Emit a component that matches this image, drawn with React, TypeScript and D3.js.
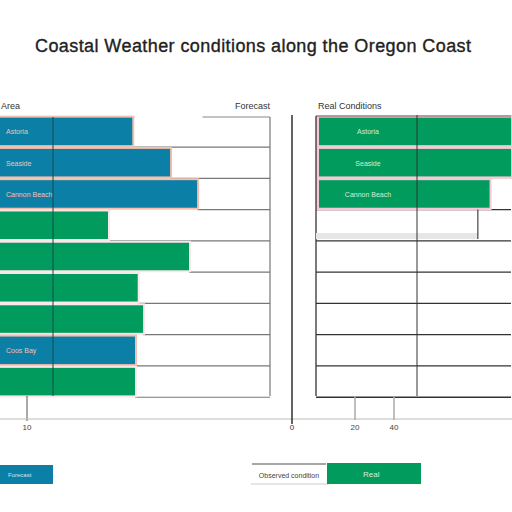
import React, { useEffect, useRef } from 'react';
import * as d3 from 'd3';

// Coastal stations, top to bottom
const stations = ['Astoria', 'Seaside', 'Cannon Beach', 'Tillamook', 'Lincoln City', 'Newport', 'Florence', 'Coos Bay', 'Brookings'];
// left panel: forecast score
const forecastValues = [49, 63, 73, 40, 70, 51, 53, 50, 50];
// which rows are "forecast" (blue) vs "observed" (green)
const forecastKind = ['forecast', 'forecast', 'forecast', 'observed', 'observed', 'observed', 'observed', 'forecast', 'observed'];
// right panel: real conditions (only first rows reported)
const conditionValues = [100, 100, 89, 83, 0, 0, 0, 0, 0];
const conditionKind = ['reported', 'reported', 'reported', 'pending', 'none', 'none', 'none', 'none', 'none'];
const leftTicks = [10];
const rightTicks = [20, 40];

const BLUE = '#0b7fa6';
const GREEN = '#009b5d';
const SALMON = '#f5c0ab';
const PINK = '#f6c9d6';
const FONT = 'Liberation Sans, Arial, sans-serif';

const App: React.FC = () => {
  const ref = useRef<SVGSVGElement | null>(null);

  useEffect(() => {
    const svg = d3.select(ref.current);
    svg.selectAll('*').remove();

    const width = 512;
    const height = 512;
    svg.attr('width', width).attr('height', height);
    svg.append('rect').attr('width', width).attr('height', height).attr('fill', '#fff');

    // Title
    svg
      .append('text')
      .attr('x', 253)
      .attr('y', 52)
      .attr('text-anchor', 'middle')
      .attr('font-family', FONT)
      .attr('font-size', 18)
      .attr('fill', '#222')
      .attr('stroke', '#222')
      .attr('stroke-width', 0.35)
      .attr('textLength', 436)
      .text('Coastal Weather conditions along the Oregon Coast');

    const y = d3
      .scaleBand()
      .domain(stations)
      .range([117, 396])
      .paddingInner(0.12)
      .paddingOuter(0.02);
    const step = y.step();

    // ---------- left panel ----------
    const xL = d3.scaleLinear().domain([0, 100]).range([0, 270]);
    const left = svg.append('g');

    left
      .append('text')
      .attr('x', 1)
      .attr('y', 109)
      .attr('font-family', FONT)
      .attr('font-size', 9)
      .attr('fill', '#333')
      .text('Area');
    left
      .append('text')
      .attr('x', 270)
      .attr('y', 109)
      .attr('text-anchor', 'end')
      .attr('font-family', FONT)
      .attr('font-size', 9)
      .attr('fill', '#333')
      .text('Forecast');

    // row grid lines from the bar end to the right edge
    stations.forEach((s, i) => {
      const yb = (y(s) as number) + y.bandwidth() + (step - y.bandwidth()) / 2;
      left
        .append('line')
        .attr('x1', xL(forecastValues[i]))
        .attr('x2', xL(100))
        .attr('y1', yb)
        .attr('y2', yb)
        .attr('stroke', '#777')
        .attr('stroke-width', 1.2);
    });
    left
      .append('line')
      .attr('x1', xL(75))
      .attr('x2', xL(100))
      .attr('y1', 117)
      .attr('y2', 117)
      .attr('stroke', '#888');
    left
      .append('line')
      .attr('x1', xL(100))
      .attr('x2', xL(100))
      .attr('y1', 117)
      .attr('y2', 396)
      .attr('stroke', '#777')
      .attr('stroke-width', 1.2);

    // light backing for every row (salmon for forecast rows)
    left
      .selectAll('.bg')
      .data(stations)
      .enter()
      .append('rect')
      .attr('x', 0)
      .attr('y', (d) => (y(d) as number) - 2)
      .attr('width', (_, i) => xL(forecastValues[i]) + 2)
      .attr('height', y.bandwidth() + 4)
      .attr('fill', (_, i) => (forecastKind[i] === 'forecast' ? SALMON : '#fbe6ea'));

    left
      .selectAll('.bar')
      .data(stations)
      .enter()
      .append('rect')
      .attr('x', 0)
      .attr('y', (d) => y(d) as number)
      .attr('width', (_, i) => xL(forecastValues[i]))
      .attr('height', y.bandwidth())
      .attr('fill', (_, i) => (forecastKind[i] === 'forecast' ? BLUE : GREEN));

    left
      .selectAll('.lbl')
      .data(stations)
      .enter()
      .filter((_, i) => forecastKind[i] === 'forecast')
      .append('text')
      .attr('x', 6)
      .attr('y', (d) => (y(d) as number) + y.bandwidth() / 2 + 3)
      .attr('font-family', FONT)
      .attr('font-size', 7)
      .attr('fill', '#f4c2b2')
      .text((d) => d);

    // divider inside the bars
    left
      .append('line')
      .attr('x1', 53)
      .attr('x2', 53)
      .attr('y1', 117)
      .attr('y2', 396)
      .attr('stroke', '#124a4a')
      .attr('stroke-width', 1);

    // bottom axis
    svg
      .append('line')
      .attr('x1', 0)
      .attr('x2', 512)
      .attr('y1', 419)
      .attr('y2', 419)
      .attr('stroke', '#bbb')
      .attr('stroke-width', 1.2);
    leftTicks.forEach((t) => {
      left
        .append('line')
        .attr('x1', xL(t))
        .attr('x2', xL(t))
        .attr('y1', 396)
        .attr('y2', 421)
        .attr('stroke', '#555');
      left
        .append('text')
        .attr('x', xL(t))
        .attr('y', 430)
        .attr('text-anchor', 'middle')
        .attr('font-family', FONT)
        .attr('font-size', 8)
        .attr('fill', '#444')
        .text(t);
    });

    // ---------- right panel ----------
    const xR = d3.scaleLinear().domain([0, 100]).range([316, 511]);
    const right = svg.append('g');

    right
      .append('line')
      .attr('x1', 292)
      .attr('x2', 292)
      .attr('y1', 115)
      .attr('y2', 424)
      .attr('stroke', '#222')
      .attr('stroke-width', 1.4);
    right
      .append('text')
      .attr('x', 292)
      .attr('y', 430)
      .attr('text-anchor', 'middle')
      .attr('font-family', FONT)
      .attr('font-size', 8)
      .attr('fill', '#333')
      .text('0');
    right
      .append('text')
      .attr('x', 318)
      .attr('y', 109)
      .attr('font-family', FONT)
      .attr('font-size', 9)
      .attr('fill', '#333')
      .text('Real Conditions');

    // grid rows
    stations.forEach((s, i) => {
      const yb = (y(s) as number) + y.bandwidth() + (step - y.bandwidth()) / 2;
      if (i >= 2) {
        right
          .append('line')
          .attr('x1', xR(0))
          .attr('x2', xR(100))
          .attr('y1', yb)
          .attr('y2', yb)
          .attr('stroke', '#333')
          .attr('stroke-width', 1.3);
      }
    });

    // pink backing for reported rows
    right
      .selectAll('.rbg')
      .data(stations)
      .enter()
      .filter((_, i) => conditionKind[i] === 'reported')
      .append('rect')
      .attr('x', xR(0))
      .attr('y', (d) => (y(d) as number) - 2.5)
      .attr('width', (d) => xR(conditionValues[stations.indexOf(d)]) - xR(0) + 2)
      .attr('height', y.bandwidth() + 5)
      .attr('fill', PINK);

    right
      .append('line')
      .attr('x1', xR(0))
      .attr('x2', xR(100))
      .attr('y1', 116)
      .attr('y2', 116)
      .attr('stroke', '#8a5a66')
      .attr('stroke-width', 1);
    right
      .append('line')
      .attr('x1', xR(0))
      .attr('x2', xR(0))
      .attr('y1', 116)
      .attr('y2', 396)
      .attr('stroke', '#333')
      .attr('stroke-width', 1.3);

    right
      .selectAll('.rbar')
      .data(stations)
      .enter()
      .filter((_, i) => conditionKind[i] === 'reported')
      .append('rect')
      .attr('x', xR(0) + 3)
      .attr('y', (d) => y(d) as number)
      .attr('width', (d) => xR(conditionValues[stations.indexOf(d)]) - xR(0) - 3)
      .attr('height', y.bandwidth())
      .attr('fill', GREEN);

    right
      .selectAll('.rlbl')
      .data(stations)
      .enter()
      .filter((_, i) => conditionKind[i] === 'reported')
      .append('text')
      .attr('x', 368)
      .attr('y', (d) => (y(d) as number) + y.bandwidth() / 2 + 3)
      .attr('text-anchor', 'middle')
      .attr('font-family', FONT)
      .attr('font-size', 7)
      .attr('fill', '#d8ecd8')
      .text((d) => d);

    // pending row
    stations.forEach((s, i) => {
      if (conditionKind[i] !== 'pending') return;
      const yt = y(s) as number;
      right
        .append('rect')
        .attr('x', xR(0))
        .attr('y', yt + y.bandwidth() - 6)
        .attr('width', xR(conditionValues[i]) - xR(0))
        .attr('height', 6)
        .attr('fill', '#e6e6e6');
      right
        .append('line')
        .attr('x1', xR(conditionValues[i]))
        .attr('x2', xR(conditionValues[i]))
        .attr('y1', yt - 2)
        .attr('y2', yt + y.bandwidth())
        .attr('stroke', '#444')
        .attr('stroke-width', 1.2);
    });

    right
      .append('line')
      .attr('x1', 417)
      .attr('x2', 417)
      .attr('y1', 115)
      .attr('y2', 396)
      .attr('stroke', '#333')
      .attr('stroke-width', 1);

    rightTicks.forEach((t) => {
      right
        .append('line')
        .attr('x1', xR(t))
        .attr('x2', xR(t))
        .attr('y1', 396)
        .attr('y2', 420)
        .attr('stroke', '#aaa')
        .attr('stroke-width', 1.5);
      right
        .append('text')
        .attr('x', xR(t))
        .attr('y', 430)
        .attr('text-anchor', 'middle')
        .attr('font-family', FONT)
        .attr('font-size', 8)
        .attr('fill', '#444')
        .text(t);
    });

    // ---------- legend ----------
    const legend = svg.append('g');
    legend.append('rect').attr('x', 0).attr('y', 465).attr('width', 53).attr('height', 19).attr('fill', BLUE);
    legend
      .append('text')
      .attr('x', 8)
      .attr('y', 477)
      .attr('font-family', FONT)
      .attr('font-size', 6)
      .attr('fill', '#cfe6ee')
      .text('Forecast');

    legend.append('line').attr('x1', 252).attr('x2', 326).attr('y1', 464).attr('y2', 464).attr('stroke', '#888').attr('stroke-width', 1.5);
    legend.append('line').attr('x1', 251).attr('x2', 329).attr('y1', 484).attr('y2', 484).attr('stroke', '#ccc').attr('stroke-width', 1);
    legend
      .append('text')
      .attr('x', 289)
      .attr('y', 478)
      .attr('text-anchor', 'middle')
      .attr('font-family', FONT)
      .attr('font-size', 7)
      .attr('fill', '#444')
      .text('Observed condition');
    legend.append('rect').attr('x', 327).attr('y', 463).attr('width', 94).attr('height', 21).attr('fill', GREEN);
    legend
      .append('text')
      .attr('x', 363)
      .attr('y', 477)
      .attr('font-family', FONT)
      .attr('font-size', 8)
      .attr('fill', '#d8ecd8')
      .text('Real');
  }, []);

  return <svg ref={ref} style={{ position: 'absolute', left: 0, top: 0 }}></svg>;
};

export default App;
